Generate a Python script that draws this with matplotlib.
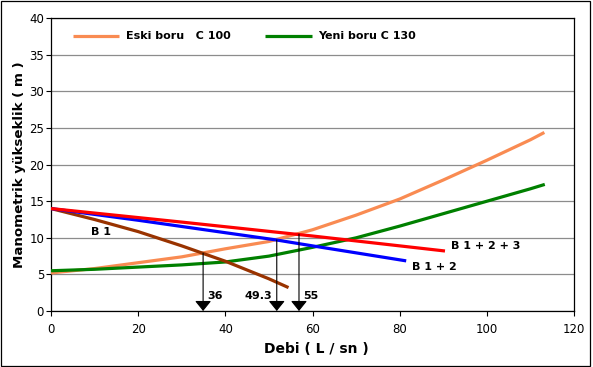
import matplotlib
matplotlib.use("Agg")
import matplotlib.pyplot as plt
from matplotlib.lines import Line2D
from matplotlib.patches import Rectangle

# ---- data ----
series_names = ["Eski boru   C 100", "Yeni boru C 130"]
x_eski = [0, 10, 20, 30, 40, 50, 60, 70, 80, 90, 100, 110, 113.2]
y_eski = [5.2, 5.8, 6.6, 7.4, 8.5, 9.5, 11.1, 13.1, 15.3, 17.9, 20.6, 23.4, 24.4]
x_yeni = [0, 10, 20, 30, 40, 50, 60, 70, 80, 90, 100, 110, 113.3]
y_yeni = [5.5, 5.7, 6.0, 6.3, 6.7, 7.5, 8.7, 10.0, 11.6, 13.3, 15.0, 16.7, 17.3]

pump_names = ["B 1", "B 1 + 2", "B 1 + 2 + 3"]
x_b1 = [0, 10, 20, 30, 40, 50, 54.5]
y_b1 = [14.0, 12.5, 10.85, 8.9, 6.8, 4.4, 3.2]
x_b12 = [0, 20, 40, 51.8, 60, 81.5]
y_b12 = [14.0, 12.4, 10.7, 9.7, 8.9, 6.85]
x_b123 = [0, 30, 60, 90.4]
y_b123 = [14.0, 12.15, 10.25, 8.2]

arrow_x = [34.9, 51.8, 56.9]
arrow_top = [7.9, 9.7, 10.5]
arrow_labels = ["36", "49.3", "55"]

x_ticks = [0, 20, 40, 60, 80, 100, 120]
y_ticks = [0, 5, 10, 15, 20, 25, 30, 35, 40]

# ---- styling ----
c_eski = "#F98B52"
c_yeni = "#008000"
c_b1 = "#993300"
c_b12 = "#0000FF"
c_b123 = "#FF0000"
LW = 2.3

W, H = 593, 367
fig = plt.figure(figsize=(W / 100, H / 100), dpi=100)
fig.subplots_adjust(left=51 / W, right=574 / W, bottom=1 - 311 / H, top=1 - 18.3 / H)
ax = fig.add_subplot(111)

ax.set_xlim(0, 120)
ax.set_ylim(0, 40)
ax.set_xticks(x_ticks)
ax.set_yticks(y_ticks)
ax.tick_params(direction="out", length=3.5, width=0.8, color="black",
               labelsize=8.5, labelcolor="black")
ax.tick_params(axis="x", pad=5)
ax.tick_params(axis="y", pad=1.5)
for lab in ax.get_xticklabels() + ax.get_yticklabels():
    lab.set_family("DejaVu Sans")

ax.yaxis.grid(True, color="#8c8c8c", lw=0.9)
ax.set_axisbelow(True)
for s in ax.spines.values():
    s.set_color("black")
    s.set_linewidth(0.9)

ax.plot(x_eski, y_eski, color=c_eski, lw=LW, solid_capstyle="butt", zorder=3)
ax.plot(x_yeni, y_yeni, color=c_yeni, lw=LW, solid_capstyle="butt", zorder=3)
ax.plot(x_b1, y_b1, color=c_b1, lw=LW, solid_capstyle="butt", zorder=4)
ax.plot(x_b12, y_b12, color=c_b12, lw=LW, solid_capstyle="butt", zorder=4)
ax.plot(x_b123, y_b123, color=c_b123, lw=LW, solid_capstyle="butt", zorder=5)

# arrows
for xa, ya in zip(arrow_x, arrow_top):
    ax.annotate("", xy=(xa, 0), xytext=(xa, ya),
                arrowprops=dict(arrowstyle="-|>,head_length=0.62,head_width=0.5",
                                mutation_scale=10, color="black", lw=0.8,
                                shrinkA=0, shrinkB=0),
                zorder=6, annotation_clip=False)

bold = dict(fontsize=8, fontweight="bold", family="DejaVu Sans", color="black")
label_offsets = [(35.8, 2.1), (44.5, 2.1), (57.8, 2.1)]
for (tx, ty), t in zip(label_offsets, arrow_labels):
    ax.text(tx, ty, t, ha="left", va="center", **bold)

ax.text(9.1, 10.75, pump_names[0], ha="left", va="center", **bold)
ax.text(82.8, 6.0, pump_names[1], ha="left", va="center", **bold)
ax.text(91.8, 8.9, pump_names[2], ha="left", va="center", **bold)

# legend drawn manually at top
ly = 0.9395
ax.add_line(Line2D([0.0415, 0.1306], [ly, ly], transform=ax.transAxes,
                   color=c_eski, lw=LW, solid_capstyle="butt"))
ax.text(0.1428, ly, series_names[0], transform=ax.transAxes, ha="left", va="center", **bold)
ax.add_line(Line2D([0.409, 0.4985], [ly, ly], transform=ax.transAxes,
                   color=c_yeni, lw=LW, solid_capstyle="butt"))
ax.text(0.510, ly, series_names[1], transform=ax.transAxes, ha="left", va="center", **bold)

ax.set_xlabel("Debi ( L / sn )", fontsize=10, fontweight="bold", family="DejaVu Sans")
ax.set_ylabel("Manometrik yükseklik ( m )", fontsize=9.6, fontweight="bold", family="DejaVu Sans")
ax.xaxis.set_label_coords(0.507, -0.105)
ax.yaxis.set_label_coords(-0.048, 0.5)

# outer frame
fig.patches.append(Rectangle((0.5 / W, 1 - 365.5 / H), 589 / W, 365 / H,
                             transform=fig.transFigure, fill=False,
                             edgecolor="black", lw=0.9))

fig.savefig("out.png", dpi=100, facecolor="white")
